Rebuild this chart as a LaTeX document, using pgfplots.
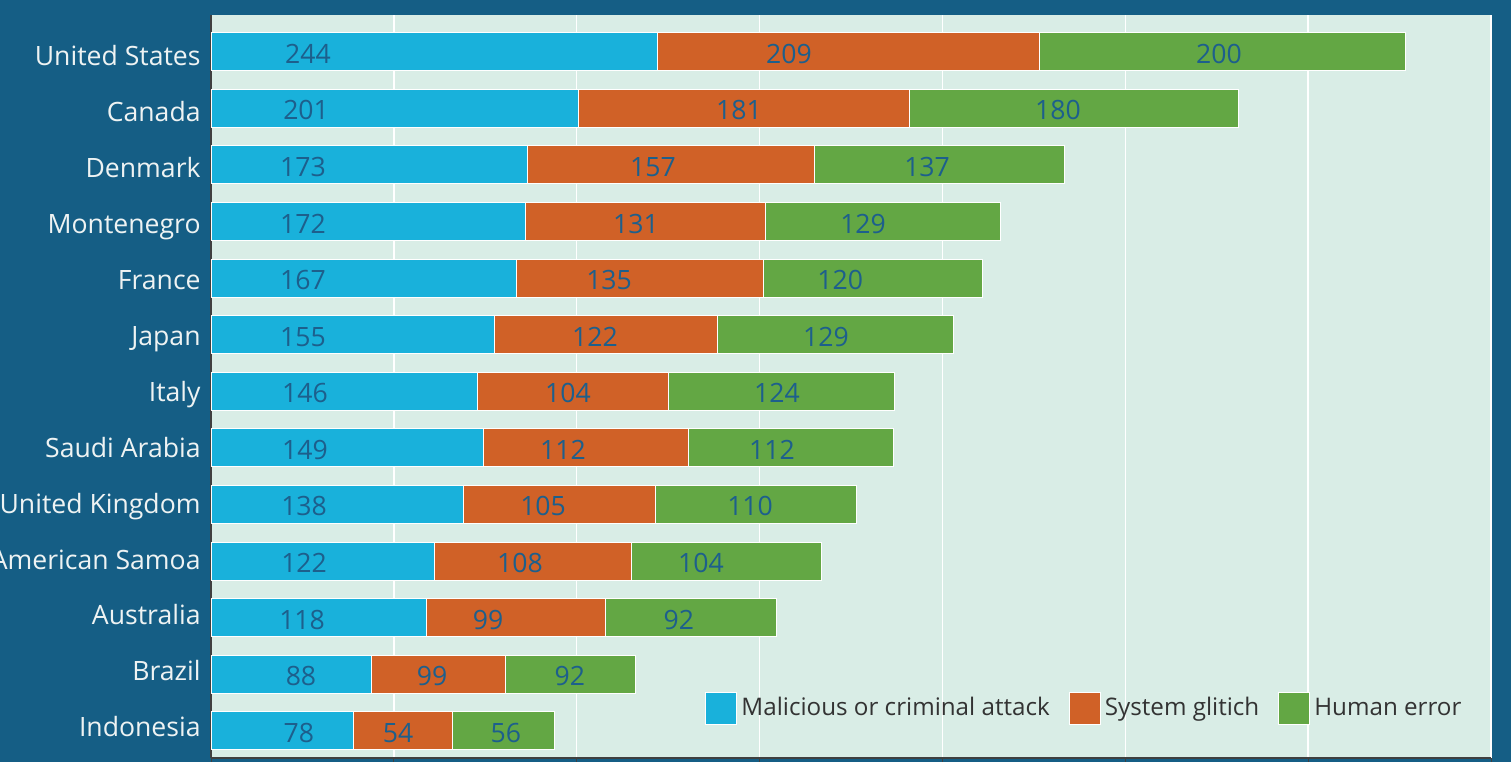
\documentclass[border=0pt]{standalone}
\usepackage{pgfplots}
\pgfplotsset{compat=1.18}
\usepackage{fontspec}
\setmainfont{Open Sans}
\definecolor{bgdark}{HTML}{155E85}
\definecolor{plotbg}{HTML}{D9EDE6}
\definecolor{cblue}{HTML}{19B1DB}
\definecolor{corange}{HTML}{D06127}
\definecolor{cgreen}{HTML}{63A744}
\definecolor{lbltxt}{HTML}{1D5F8C}
\definecolor{ytxt}{HTML}{EEF3F3}
\definecolor{legtxt}{HTML}{333333}
\newcommand\f{\fontsize{13.3bp}{16bp}\selectfont}
\newcommand\fl{\fontsize{12.1bp}{15bp}\selectfont}
\begin{document}
\begin{tikzpicture}
\path[use as bounding box] (0,0) rectangle (755.5bp,381bp);
\clip (0,0) rectangle (755.5bp,381bp);
\fill[bgdark] (0,0) rectangle (755.5bp,381bp);
\begin{axis}[
  at={(105.5bp,2bp)}, anchor=south west,
  width=640bp, height=371.5bp, scale only axis,
  xmin=0, xmax=700, ymin=-0.48, ymax=12.65,
  xbar stacked, bar width=19bp,
  legend image code/.code={\draw[#1, draw=white, line width=0.5bp] (0bp,-8bp) rectangle (15.5bp,8bp);},
  axis background/.style={fill=plotbg},
  axis x line*=bottom, axis y line*=left,
  axis line style={draw=black!75, line width=0.6bp},
  xtick={0,100,...,700}, xticklabels={},
  xmajorgrids, grid style={white, line width=0.7bp},
  x tick style={draw=black!75, line width=0.5bp}, tick align=outside, major tick length=3bp,
  ytick={0.065,1.053,2.041,3.029,4.017,5.005,5.993,6.981,7.969,8.957,9.945,10.933,11.921},
  yticklabels={Indonesia,Brazil,Australia,American Samoa,United Kingdom,Saudi Arabia,Italy,Japan,France,Montenegro,Denmark,Canada,United States},
  y tick style={draw=none},
  yticklabel style={font=\f, text=ytxt, inner sep=0pt, anchor=base east, xshift=-2bp, yshift=-4.8bp},
  legend columns=3,
  legend style={at={(0.386,0.067)}, anchor=west, draw=none, fill=none, inner sep=0pt,
    font=\fl, text=legtxt, nodes={inner xsep=2bp, inner ysep=0pt},
    /tikz/every even column/.append style={column sep=7.5bp}},
  every axis plot/.append style={draw=white, line width=0.5bp},
]
\addplot[fill=cblue] coordinates {(78,0) (88,1) (118,2) (122,3) (138,4) (149,5) (146,6) (155,7) (167,8) (172,9) (173,10) (201,11) (244,12)};
\addplot[fill=corange] coordinates {(54,0) (73,1) (98,2) (108,3) (105,4) (112,5) (104,6) (122,7) (135,8) (131,9) (157,10) (181,11) (209,12)};
\addplot[fill=cgreen] coordinates {(56,0) (71,1) (93,2) (104,3) (110,4) (112,5) (124,6) (129,7) (120,8) (129,9) (137,10) (180,11) (200,12)};
\legend{Malicious or criminal attack,System glitich,Human error}
\end{axis}
\begin{axis}[
  at={(105.5bp,2bp)}, anchor=south west,
  width=640bp, height=371.5bp, scale only axis,
  xmin=0, xmax=700, ymin=-0.48, ymax=12.65,
  hide axis,
]
\addplot[draw=none, nodes near coords, nodes near coords align=center, point meta=explicit symbolic,
  every node near coord/.append style={font=\f, text=lbltxt, yshift=-1bp}]
table[meta=l] {
x y l
53.0 12 244
316.1 12 209
551.2 12 200
52.0 11 201
288.7 11 181
463.2 11 180
50.3 10 173
241.7 10 157
391.6 10 137
50.3 9 172
232.4 9 131
356.6 9 129
50.3 8 167
217.7 8 135
344.1 8 120
50.3 7 155
210.0 7 122
336.3 7 129
51.4 6 146
195.2 6 104
309.5 6 124
51.4 5 149
192.5 5 112
306.8 5 112
50.9 4 138
181.6 4 105
294.8 4 110
50.9 3 122
169.0 3 108
268.0 3 104
49.8 2 118
151.5 2 99
255.9 2 92
49.2 1 88
120.9 1 99
196.3 1 92
48.1 0 78
102.3 0 54
161.3 0 56
};
\end{axis}
\end{tikzpicture}
\end{document}
